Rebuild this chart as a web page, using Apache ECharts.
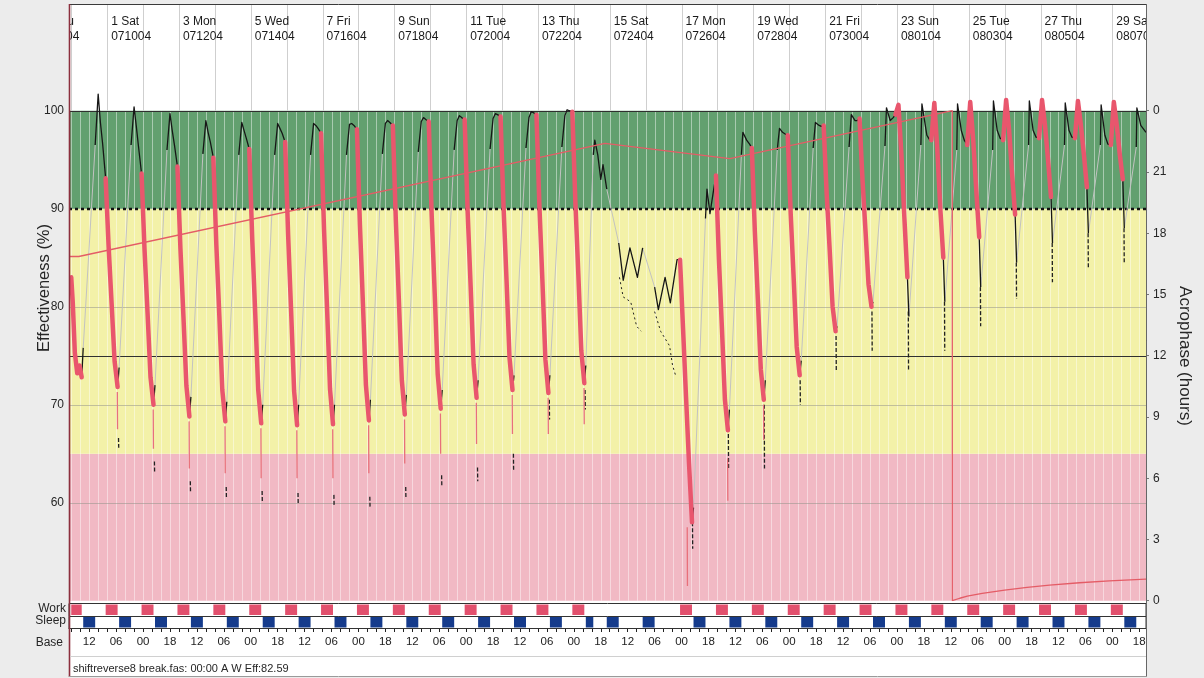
<!DOCTYPE html>
<html><head><meta charset="utf-8">
<script src="https://cdn.jsdelivr.net/npm/echarts@6/dist/echarts.min.js"></script>
<style>html,body{margin:0;padding:0;background:#ececec;}#c{width:1204px;height:678px;}</style>
</head><body><div id="c"></div>
<script>
// ---------------- DATA ----------------
// time in hours, 0 = Day 1 (Sat 07/10/04) 00:00
const X_MIN = -25.5, X_MAX = 694.5;
const EFF_MIN = 50, EFF_MAX = 110.79;
const ACRO_MAX = (EFF_MAX - EFF_MIN) * 24 / 50;

const dayLabelDays  = [-1, 1, 3, 5, 7, 9, 11, 13, 15, 17, 19, 21, 23, 25, 27, 29];
const dayLabelNames = ['-1 Thu','1 Sat','3 Mon','5 Wed','7 Fri','9 Sun','11 Tue','13 Thu','15 Sat','17 Mon','19 Wed','21 Fri','23 Sun','25 Tue','27 Thu','29 Sat'];
const dayLabelDates = ['070804','071004','071204','071404','071604','071804','072004','072204','072404','072604','072804','073004','080104','080304','080504','080704'];

const bandEdges = [50, 65, 90, 100];
const solidLevels = [100, 75];
const dottedLevels = [90];
const faintLevels = [80, 70, 60];
const acroTicks = [0, 3, 6, 9, 12, 15, 18, 21, 24];

const workPeriods = [[-24,-17],[-1,7],[23,31],[47,55],[71,79],[95,103],[119,127],[143,151],[167,175],[191,199],[215,223],[239,247],[263,271],[287,295],[311,319],
  [383,391],[407,415],[431,439],[455,463],[479,487],[503,511],[527,535],[551,559],[575,583],[599,607],[623,631],[647,655],[671,679]];
const sleepPeriods = [[-16,-8],[8,16],[32,40],[56,64],[80,88],[104,112],[128,136],[152,160],[176,184],[200,208],[224,232],[248,256],[272,280],[296,304],
  [320,325],[334,342],[358,366],
  [392,400],[416,424],[440,448],[464,472],[488,496],[512,520],[536,544],[560,568],[584,592],[608,616],[632,640],[656,664],[680,688]];

// Effectiveness (%) key points [hour, value]
const effWeek1 = [
  [-24,83.0],[-23,80.5],[-21.6,75.3],[-20,73.2],[-18.5,74.0],[-17,72.8],[-16,75.8],[-8,96.5],[-6,101.7],[-4.5,98.8],[-3,96.6],
  [-1,93.1],[1,86.1],[3,80.3],[5,74.4],[7,71.8],[8,73.8],[16,96.5],[18,100.4],[19.5,98.4],[21,96.3],
  [23,93.6],[25,85.8],[27,79.4],[29,72.8],[31,70.0],[32,72.0],[40,96.0],[42,99.7],[43.5,98.0],[45,96.5],
  [47,94.3],[49,85.9],[51,79.0],[53,71.9],[55,68.8],[56,70.8],[64,95.6],[66,99.0],[67.5,97.8],[69,96.8],
  [71,95.2],[73,86.3],[75,79.1],[77,71.5],[79,68.3],[80,70.3],[88,95.5],[90,98.8],[91.5,98.0],[93,97.2],
  [95,96.1],[97,86.9],[99,79.3],[101,71.5],[103,68.1],[104,70.0],[112,95.5],[114,98.7],[115.5,98.2],[117,97.7],
  [119,96.8],[121,87.3],[123,79.5],[125,71.4],[127,67.9],[128,70.0],[136,95.5],[138,98.7],[139.5,98.5],[141,98.2],
  [143,97.7],[145,87.9],[147,79.9],[149,71.6],[151,68.0],[152,70.0],[160,95.5],[162,98.6],[163.5,98.7],[165,98.5]
];
const effWeek2 = [
  [167,98.1],[169,88.3],[171,80.3],[173,72.0],[175,68.4],[176,70.5],[184,95.6],[186,98.7],[187.5,99.0],[189,98.8],
  [191,98.5],[193,88.8],[195,80.8],[197,72.5],[199,69.0],[200,71.0],[208,95.8],[210,98.9],[211.5,99.3],[213,99.1],
  [215,98.9],[217,89.2],[219,81.3],[221,73.1],[223,69.6],[224,71.5],[232,96.0],[234,99.0],[235.5,99.5],[237,99.3],
  [239,99.1],[241,89.7],[243,82.1],[245,74.1],[247,70.7],[248,72.5],[256,96.1],[258,99.2],[259.5,99.7],[261,99.6],
  [263,99.4],[265,90.2],[267,82.7],[269,74.8],[271,71.5],[272,73.0],[280,96.2],[282,99.3],[283.5,99.9],[285,99.8],
  [287,99.6],[289,90.2],[291,82.6],[293,74.6],[295,71.2],[296,73.0],[304,96.3],[306,99.5],[307.5,100.1],[309,100.0],
  [311,99.9],[313,90.8],[315,83.3],[317,75.5],[319,72.2]
];
const effBreak = [
  [320,74.0],[325,95.5],[326,97.0],[328,95.5],[330,93.0],[331.5,94.5],[334,92.0],[342,86.5],
  [345,82.7],[349.5,86.0],[354.5,83.0],[358,86.0],[366,82.0],[368.5,79.7],[373,83.0],[376.5,80.4],[381,84.8],
  [383,84.8],[385,77.8],[387,70.8],[389,64.0],[391,58.0],[392,59.5],[400,89.0],[401,92.0],[403,89.5],[405,91.5]
];
const effWeek3 = [
  [407,93.4],[409,84.8],[411,77.8],[413,70.5],[415,67.4],[416,69.5],[424,95.5],[425,97.8],[427.5,97.0],[429.5,96.6],
  [431,96.2],[433,87.7],[435,80.8],[437,73.6],[439,70.5],[440,72.5],[448,96.0],[449.5,98.2],[451.5,97.8],[453.5,97.6],
  [455,97.5],[457,89.4],[459,82.8],[461,75.9],[463,73.0],[464,74.5],[472,96.2],[473.5,98.8],[476,98.5],[477.5,98.4],
  [479,98.5],[481,91.6],[483,85.9],[485,80.0],[487,77.5],[488,78.0],[496,96.3],[497.5,99.6],[500,99.0],[501.5,99.0],
  [503,99.2],[505,92.9],[507,87.7],[509,82.3],[511,80.0],[512,80.5],[520,96.4],[521,100.3],[523.5,99.0],[525.5,99.3],
  [527,99.6],[529,100.6],[531,95.5],[533,89.0],[535,83.0],[536,79.0],[544,96.5],[544.7,100.7],[548,97.5],[550,97.0]
];
const effWeek4 = [
  [551,97.0],[553,100.8],[555,96.0],[557,90.0],[559,85.0],[560,80.5],[568,96.0],[568.5,100.7],[571,98.0],[573,97.0],
  [575,96.5],[577,100.9],[579,97.0],[581,92.0],[583,87.1],[584,82.0],[592,96.0],[592.5,101.0],[595,98.0],[597,97.2],
  [599,97.0],[601,101.1],[603,98.0],[605,93.5],[607,89.4],[608,84.5],[616,96.5],[616.5,101.0],[619,98.0],[621,97.3],
  [623,97.2],[625,101.1],[627,98.5],[629,95.0],[631,91.2],[632,86.5],[640,96.5],[640.5,100.8],[643,98.0],[645,97.3],
  [647,97.2],[649,101.0],[651,98.5],[653,95.5],[655,92.2],[656,87.5],[664,96.5],[664.5,100.6],[667,97.5],[669,96.6],
  [671,96.5],[673,100.9],[675,98.5],[677,95.5],[679,93.0],[680,88.0],[688,96.3],[688.4,100.3],[691,98.5],[694.5,97.8]
];

// lower (percentile) line fragments [hour, top value, bottom value]
const tailBlack = [[7.6,66.6,65.6],[31.6,64.2,63.0],[55.6,62.2,61.0],[79.6,61.6,60.4],[103.6,61.2,60.0],[127.6,61.0,59.8],[151.6,60.8,59.6],
  [175.6,60.6,59.6],[199.6,61.6,60.4],[223.6,62.8,61.6],[247.6,63.6,62.2],[271.6,65.0,63.2],[295.6,70.5,68.5],[319.5,71.5,69.5],
  [391.3,58.0,55.3],[415.3,67.0,63.5],[439.3,70.0,63.5],[463.3,72.5,70.0],[487.3,77.0,73.5],[511.3,79.5,75.5],[535.6,79.5,73.5],
  [559.8,80.5,75.5],[583.8,82.0,78.0],[607.8,84.5,80.8],[631.8,86.5,82.5],[655.8,87.5,84.0],[679.8,88.0,84.5]];
const tailRed = [[6.8,71.3,67.5],[30.8,69.5,65.5],[54.8,68.3,63.5],[78.8,67.8,63.0],[102.8,67.6,62.5],[126.8,67.4,62.5],[150.8,67.5,62.5],
  [174.8,67.9,63.0],[198.8,68.5,64.0],[222.8,69.1,65.0],[246.8,70.2,66.0],[270.8,71.0,67.0],[294.8,70.7,67.0],[318.8,71.7,68.0],
  [387.8,57.5,51.5],[414.8,64.5,60.2],[438.8,70.0,66.4]];
const lowerBreak = [[342.5,83.0],[345,81.0],[350,80.5],[354,78.0],[357,77.5],[357.2,'-'],[366,79.5],[370,77.5],[376,76.0],[378,74.0],[380,73.0]];

// Acrophase (hours)
const acroPoints = [[-25.5,16.86],[-19,16.86],[332.8,22.4],[416.3,21.65],[565,24.0],[565,0],[570,0.12],[575,0.22],[585,0.36],
  [600,0.52],[615,0.65],[630,0.76],[650,0.88],[670,0.97],[694.5,1.06]];

// ---------------- BUILD ----------------
const FONT = '"Liberation Sans", Arial, sans-serif';
const stripeTimes = []; for (let t = -24; t <= X_MAX; t += 6) stripeTimes.push(t);
const dayLineTimes = []; for (let t = -24; t <= X_MAX; t += 24) dayLineTimes.push(t);
const baseLabelTimes = []; for (let t = -12; t <= X_MAX; t += 18) baseLabelTimes.push(t);

const effPoints = [].concat(effWeek1, effWeek2, effBreak, effWeek3, effWeek4);
const inAny = (t, ps) => ps.some(p => t > p[0] && t < p[1]);
const stateAt = t => inAny(t, workPeriods) ? 'work' : (inAny(t, sleepPeriods) ? 'sleep' : 'awake');
const lines = {work: [], sleep: [], awake: []};
const lastEnd = {work: -1, sleep: -1, awake: -1};
for (let i = 0; i < effPoints.length - 1; i++) {
  const a = effPoints[i], b = effPoints[i + 1];
  const s = stateAt((a[0] + b[0]) / 2);
  const arr = lines[s];
  if (lastEnd[s] !== i) { if (arr.length) arr.push([a[0], '-']); arr.push(a); }
  arr.push(b);
  lastEnd[s] = i + 1;
}
function vsegs(arr) { const out = []; arr.forEach(d => { out.push([d[0], d[1]]); out.push([d[0] + 0.15, d[2]]); out.push([d[0] + 0.2, '-']); }); return out; }

const bandColors = ['#f1b9c4', '#f3f1a8', '#62a06f'];

function lineEl(p0, p1, style) { return {type: 'line', shape: {x1: p0[0], y1: p0[1], x2: p1[0], y2: p1[1]}, style: style}; }

const series = [
  {type: 'custom', name: 'bands', xAxisIndex: 0, yAxisIndex: 0, z: 1, silent: true,
    data: [[0, 0], [1, 0], [2, 0]],
    renderItem: (params, api) => {
      const i = params.dataIndex;
      const p0 = api.coord([X_MIN, bandEdges[i + 1]]), p1 = api.coord([X_MAX, bandEdges[i]]);
      return {type: 'rect', shape: {x: p0[0], y: p0[1], width: p1[0] - p0[0], height: p1[1] - p0[1]}, style: {fill: bandColors[i]}};
    }},
  {type: 'custom', name: 'stripes', xAxisIndex: 0, yAxisIndex: 0, z: 2, silent: true,
    data: stripeTimes.map(t => [t, 50]),
    renderItem: (params, api) => {
      const t = stripeTimes[params.dataIndex];
      const x = Math.round(api.coord([t, 50])[0]) + 0.5;
      return lineEl([x, api.coord([t, 50])[1]], [x, api.coord([t, 100])[1]], {stroke: 'rgba(255,255,255,0.45)', lineWidth: 1});
    }},
  {type: 'custom', name: 'daylines', xAxisIndex: 0, yAxisIndex: 0, z: 2, silent: true,
    data: dayLineTimes.map(t => [t, 100]),
    renderItem: (params, api) => {
      const t = dayLineTimes[params.dataIndex];
      const x = Math.round(api.coord([t, 100])[0]) + 0.5;
      return lineEl([x, api.coord([t, 100])[1]], [x, api.coord([t, EFF_MAX])[1]], {stroke: '#cfcfcf', lineWidth: 1});
    }},
  {type: 'custom', name: 'levels', xAxisIndex: 0, yAxisIndex: 0, z: 3, silent: true,
    data: [[0, 0]],
    renderItem: (params, api) => {
      const ch = [];
      faintLevels.forEach(v => { const y = Math.round(api.coord([0, v])[1]) + 0.5; ch.push(lineEl([api.coord([X_MIN, v])[0], y], [api.coord([X_MAX, v])[0], y], {stroke: 'rgba(150,150,140,0.55)', lineWidth: 1})); });
      solidLevels.forEach(v => { const y = Math.round(api.coord([0, v])[1]) + 0.5; ch.push(lineEl([api.coord([X_MIN, v])[0], y], [api.coord([X_MAX, v])[0], y], {stroke: '#303030', lineWidth: 1.2})); });
      dottedLevels.forEach(v => { const y = Math.round(api.coord([0, v])[1]); ch.push(lineEl([api.coord([X_MIN, v])[0], y], [api.coord([X_MAX, v])[0], y], {stroke: '#111', lineWidth: 2.5, lineDash: [3, 3]})); });
      return {type: 'group', children: ch};
    }},
  {type: 'line', name: 'sleep', xAxisIndex: 0, yAxisIndex: 0, z: 4, data: lines.sleep, showSymbol: false, silent: true,
    lineStyle: {color: '#c2c2c2', width: 1}},
  {type: 'line', name: 'lowerBreak', xAxisIndex: 0, yAxisIndex: 0, z: 5, data: lowerBreak, showSymbol: false, silent: true,
    lineStyle: {color: '#222', width: 1, type: [2, 3]}},
  {type: 'line', name: 'tailBlack', xAxisIndex: 0, yAxisIndex: 0, z: 5, data: vsegs(tailBlack), showSymbol: false, silent: true,
    lineStyle: {color: '#222', width: 1.3, type: [4, 2]}},
  {type: 'line', name: 'tailRed', xAxisIndex: 0, yAxisIndex: 0, z: 5, data: vsegs(tailRed), showSymbol: false, silent: true,
    lineStyle: {color: '#e8707a', width: 1.3}},
  {type: 'line', name: 'awake', xAxisIndex: 0, yAxisIndex: 0, z: 6, data: lines.awake, showSymbol: false, silent: true,
    lineStyle: {color: '#161616', width: 1.3, join: 'round'}},
  {type: 'line', name: 'acrophase', xAxisIndex: 0, yAxisIndex: 1, z: 7, data: acroPoints, showSymbol: false, silent: true,
    lineStyle: {color: '#e45c66', width: 1.3}},
  {type: 'line', name: 'work', xAxisIndex: 0, yAxisIndex: 0, z: 8, data: lines.work, showSymbol: false, silent: true,
    lineStyle: {color: '#e9566d', width: 4.5, join: 'round', cap: 'round'}},
  {type: 'custom', name: 'dayLabels', xAxisIndex: 0, yAxisIndex: 0, z: 9, silent: true,
    data: dayLabelDays.map(d => [(d - 1) * 24, 100]),
    renderItem: (params, api) => {
      const i = params.dataIndex;
      const x = api.coord([(dayLabelDays[i] - 1) * 24, 100])[0] + 4;
      const cs = params.coordSys;
      const st = (txt, y) => ({type: 'text', style: {x: x, y: y, text: txt, fill: '#1a1a1a', font: '12px ' + FONT, align: 'left', verticalAlign: 'middle', textAlign: 'left', textVerticalAlign: 'middle'}});
      return {type: 'group', clipPath: {type: 'rect', shape: {x: cs.x, y: cs.y, width: cs.width, height: cs.height}},
        children: [st(dayLabelNames[i], 22), st(dayLabelDates[i], 37)]};
    }},
  {type: 'custom', name: 'rowFrame', xAxisIndex: 1, yAxisIndex: 2, z: 1, silent: true,
    data: [[X_MIN, 0]],
    renderItem: (params, api) => {
      const a = api.coord([X_MIN, 2]), m = api.coord([X_MAX, 1]), b = api.coord([X_MAX, 0]);
      return {type: 'group', children: [
        {type: 'rect', shape: {x: a[0], y: Math.round(a[1]) + 0.5, width: m[0] - a[0], height: Math.round(m[1]) - Math.round(a[1])}, style: {fill: '#fff', stroke: '#333', lineWidth: 1}},
        {type: 'rect', shape: {x: a[0], y: Math.round(m[1]) + 0.5, width: m[0] - a[0], height: Math.round(b[1]) - Math.round(m[1])}, style: {fill: '#fff', stroke: '#333', lineWidth: 1}}
      ]};
    }},
  {type: 'custom', name: 'workRow', xAxisIndex: 1, yAxisIndex: 2, z: 2, silent: true,
    data: workPeriods.map(p => [p[0], 1]),
    renderItem: (params, api) => {
      const p = workPeriods[params.dataIndex];
      const a = api.coord([p[0], 2]), b = api.coord([p[1], 1]);
      return {type: 'rect', shape: {x: a[0], y: a[1] + 1.5, width: b[0] - a[0], height: b[1] - a[1] - 2}, style: {fill: '#e2506d'}};
    }},
  {type: 'custom', name: 'sleepRow', xAxisIndex: 1, yAxisIndex: 2, z: 2, silent: true,
    data: sleepPeriods.map(p => [p[0], 0]),
    renderItem: (params, api) => {
      const p = sleepPeriods[params.dataIndex];
      const a = api.coord([p[0], 1]), b = api.coord([p[1], 0]);
      return {type: 'rect', shape: {x: a[0], y: a[1] + 1.5, width: b[0] - a[0], height: b[1] - a[1] - 2}, style: {fill: '#153b8c'}};
    }}
];

const txt = (text, x, y, size, align, extra) => Object.assign({type: 'text', x: x, y: y, z: 50,
  style: {text: text, font: size + 'px ' + FONT, fill: '#262626', align: align, verticalAlign: 'middle', textAlign: align, textVerticalAlign: 'middle'}}, extra || {});
const gl = (x1, y1, x2, y2, color, w) => ({type: 'line', z: 60, shape: {x1: x1, y1: y1, x2: x2, y2: y2}, style: {stroke: color, lineWidth: w}});

const option = {
  backgroundColor: '#ececec',
  animation: false,
  grid: [
    {left: 69, top: 5, width: 1077, height: 595.7},
    {left: 69, top: 603, width: 1077, height: 25}
  ],
  xAxis: [
    {type: 'value', gridIndex: 0, min: X_MIN, max: X_MAX, show: false},
    {type: 'value', gridIndex: 1, min: X_MIN, max: X_MAX, position: 'bottom',
      axisLine: {show: true, lineStyle: {color: '#222', width: 1}},
      axisTick: {show: true, customValues: stripeTimes, length: 4, lineStyle: {color: '#222'}},
      axisLabel: {customValues: baseLabelTimes, margin: 8, fontSize: 11.5, color: '#222', fontFamily: FONT,
        formatter: v => { const h = ((Math.round(v) % 24) + 24) % 24; return (h < 10 ? '0' : '') + h; }},
      splitLine: {show: false}}
  ],
  yAxis: [
    {type: 'value', gridIndex: 0, min: EFF_MIN, max: EFF_MAX, interval: 10, position: 'left',
      axisLine: {show: false}, axisTick: {show: false}, splitLine: {show: false},
      axisLabel: {margin: 5, fontSize: 12, color: '#262626', fontFamily: FONT, formatter: v => (v >= 60 && v <= 100) ? String(v) : ''}},
    {type: 'value', gridIndex: 0, min: 0, max: ACRO_MAX, position: 'right',
      axisLine: {show: true, lineStyle: {color: '#555', width: 1}},
      axisTick: {show: true, customValues: acroTicks, length: 3, lineStyle: {color: '#777'}}, splitLine: {show: false},
      axisLabel: {customValues: acroTicks, margin: 7, fontSize: 12, color: '#262626', fontFamily: FONT, formatter: v => v === 24 ? '0' : String(v)}},
    {type: 'value', gridIndex: 1, min: 0, max: 2, show: false}
  ],
  graphic: [
    {type: 'rect', z: -100, shape: {x: 69, y: 4, width: 1077, height: 673}, style: {fill: '#ffffff'}},
    gl(69, 4.5, 1147, 4.5, '#3a3a3a', 1),
    gl(69.5, 4, 69.5, 677, '#8c2f3e', 1.6),
    gl(1146.5, 4, 1146.5, 677, '#666', 1),
    gl(69, 676.5, 1147, 676.5, '#9a9a9a', 1),
    gl(70, 656.5, 1146, 656.5, '#d0d0d0', 1),
    txt('Effectiveness (%)', 44, 288, 16.5, 'center', {rotation: Math.PI / 2}),
    txt('Acrophase (hours)', 1185, 356, 17, 'center', {rotation: -Math.PI / 2}),
    txt('Work', 66, 609, 12, 'right'),
    txt('Sleep', 66, 621, 12, 'right'),
    txt('Base', 63, 643, 12, 'right'),
    txt('shiftreverse8 break.fas: 00:00 A W Eff:82.59', 73, 669, 11, 'left')
  ],
  series: series
};
const chart = echarts.init(document.getElementById('c'), null, {renderer: 'canvas'});
chart.setOption(option);
</script></body></html>
